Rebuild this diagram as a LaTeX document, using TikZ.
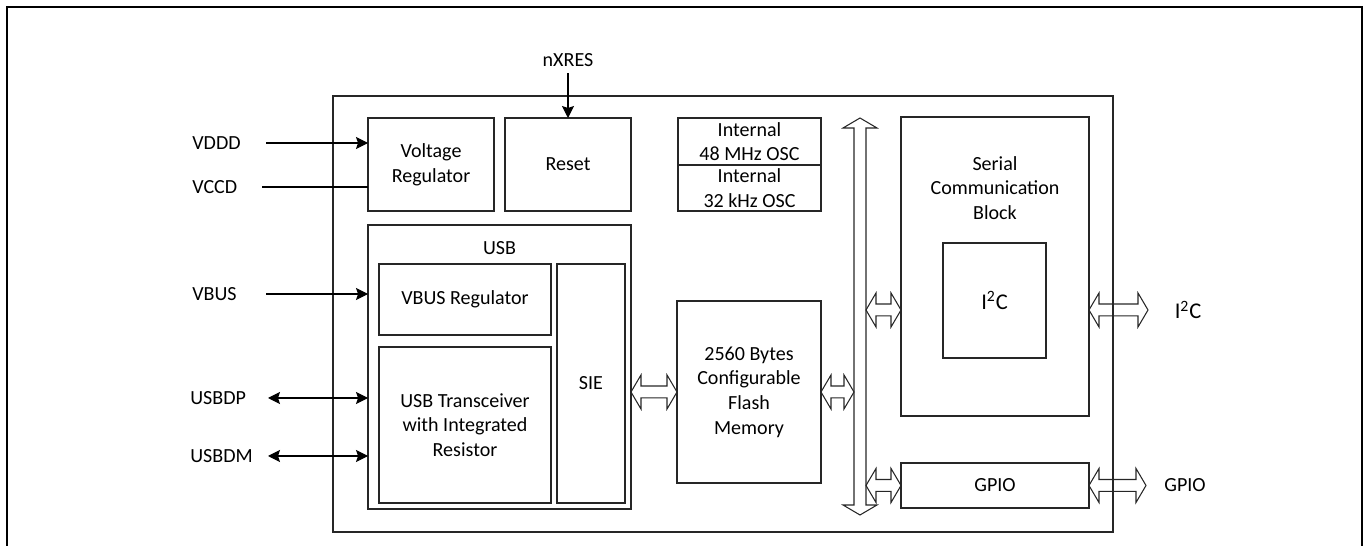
\documentclass[tikz,border=0pt]{standalone}
\usepackage{fontspec}
\setmainfont{Carlito}
\usepackage{tikz}
\usetikzlibrary{calc}
\usetikzlibrary{arrows.meta}

\tikzset{
  blk/.style={draw=black!85,line width=0.7pt,outer sep=0pt,inner sep=0pt,
    align=center,font=\fontsize{11.4}{14}\selectfont},
  txt/.style={inner sep=0pt,align=center,font=\fontsize{11.4}{14}\selectfont},
  big/.style={inner sep=0pt,font=\fontsize{12.8}{15}\selectfont},
  sig/.style={draw=black,line width=0.6pt},
  fat/.style={draw=black!85,line width=0.6pt,line join=miter,
    to path={let \p1=(\tikztostart), \p2=(\tikztotarget) in
      (\x1,\y1) -- (\x1+5.7pt,\y1+9.7pt) -- (\x1+5.7pt,\y1+3.4pt)
      -- (\x2-5.7pt,\y1+3.4pt) -- (\x2-5.7pt,\y1+9.7pt) -- (\x2,\y1)
      -- (\x2-5.7pt,\y1-9.7pt) -- (\x2-5.7pt,\y1-3.4pt)
      -- (\x1+5.7pt,\y1-3.4pt) -- (\x1+5.7pt,\y1-9.7pt) -- cycle}}
}

\begin{document}
\begin{tikzpicture}[x=0.02cm,y=-0.02cm,>={Stealth[length=2.4mm,width=2.4mm,inset=0.4mm]}]
  \useasboundingbox (0,0) rectangle (1369,546);
  \draw[line width=1.4pt]
    (7,546)
    --
    (7,7)
    --
    (1362,7)
    --
    (1362,546);

  \node[blk,minimum width=15.6cm,minimum height=8.72cm] (chip) at (723,314) {};
  \node[blk,minimum width=2.52cm,minimum height=1.86cm] (vreg) at (431,164.5) {Voltage\\Regulator};
  \node[blk,minimum width=2.52cm,minimum height=1.86cm] (reset) at (568,164.5) {Reset};
  \node[blk,minimum width=2.86cm,minimum height=0.94cm] (osc48) at (749.5,141.5) {Internal\\48 MHz OSC};
  \node[blk,minimum width=2.86cm,minimum height=0.92cm] (osc32) at (749.5,188) {Internal\\32 kHz OSC};
  \node[blk,minimum width=5.26cm,minimum height=5.68cm] (usb) at (499.5,367) {};
  \node[txt] (usblbl) at (499.5,248) {USB};
  \node[blk,minimum width=3.44cm,minimum height=1.42cm] (vbusreg) at (465,299.5) {VBUS Regulator};
  \node[blk,minimum width=3.44cm,minimum height=3.12cm] (xcvr) at (465,425) {USB Transceiver\\with Integrated\\Resistor};
  \node[blk,minimum width=1.36cm,minimum height=4.78cm] (sie) at (591,383.5) {SIE};
  \node[blk,minimum width=2.88cm,minimum height=3.64cm] (flash) at (749,392) {2560 Bytes\\Configurable\\Flash\\Memory};
  \node[blk,minimum width=3.76cm,minimum height=5.98cm] (scb) at (995,266.5) {};
  \node[txt] (scblbl) at (995,188) {Serial\\Communication\\Block};
  \node[blk,minimum width=2.06cm,minimum height=2.3cm,font=\fontsize{12.8}{15}\selectfont] (i2c) at (994.5,300.5) {I\textsuperscript{2}C};
  \node[blk,minimum width=3.76cm,minimum height=0.9cm] (gpio) at (995,485.5) {GPIO};

  \node[txt,anchor=west] (lvddd) at (192,143) {VDDD};
  \node[txt,anchor=west] (lvccd) at (192,187) {VCCD};
  \node[txt,anchor=west] (lvbus) at (192,294) {VBUS};
  \node[txt,anchor=west] (lusbdp) at (190,398) {USBDP};
  \node[txt,anchor=west] (lusbdm) at (190,456) {USBDM};
  \node[txt] (lnxres) at (568,60) {nXRES};
  \node[big] (li2c) at (1188,310) {I\textsuperscript{2}C};
  \node[txt] (lgpio) at (1185,485) {GPIO};

  \coordinate (vddd) at (266,143);
  \coordinate (vccd) at (262,187);
  \coordinate (vbus) at (266,294);
  \coordinate (usbdp) at (268,398);
  \coordinate (usbdm) at (268,456);
  \coordinate (i2cend) at (1148,310);
  \coordinate (gpioend) at (1146,485);
  \coordinate (busT) at (860,118);
  \coordinate (busB) at (860,515);
  \coordinate (busL) at (854,320);
  \coordinate (busR) at (866,320);

  \draw[sig,->]
    (vddd)
    --
    (vddd -| vreg.west);
  \draw[sig]
    (vccd)
    --
    (vccd -| vreg.west);
  \draw[sig,->]
    (vbus)
    --
    (vbus -| usb.west);
  \draw[sig,<->]
    (usbdp)
    --
    (usbdp -| usb.west);
  \draw[sig,<->]
    (usbdm)
    --
    (usbdm -| usb.west);
  \draw[sig,->,shorten <=3.5pt]
    (lnxres.south)
    --
    (reset.north);

  \draw[draw=black!85,line width=0.6pt,line join=miter]
    (busT)
    -- ++(17,10) -- ++(-11,0) -- ++(0,377) -- ++(11,0)
    -- (busB)
    -- ++(-17,-10) -- ++(11,0) -- ++(0,-377) -- ++(-11,0)
    -- cycle;

  \draw[fat] (usb.east |- flash.west) to (flash.west);
  \draw[fat] (flash.east) to (flash.east -| busL);
  \draw[fat] (busR |- i2cend) to (scb.west |- i2cend);
  \draw[fat] (scb.east |- i2cend) to (i2cend);
  \draw[fat] (busR |- gpio.west) to (gpio.west);
  \draw[fat] (gpio.east) to (gpioend);
\end{tikzpicture}
\end{document}
